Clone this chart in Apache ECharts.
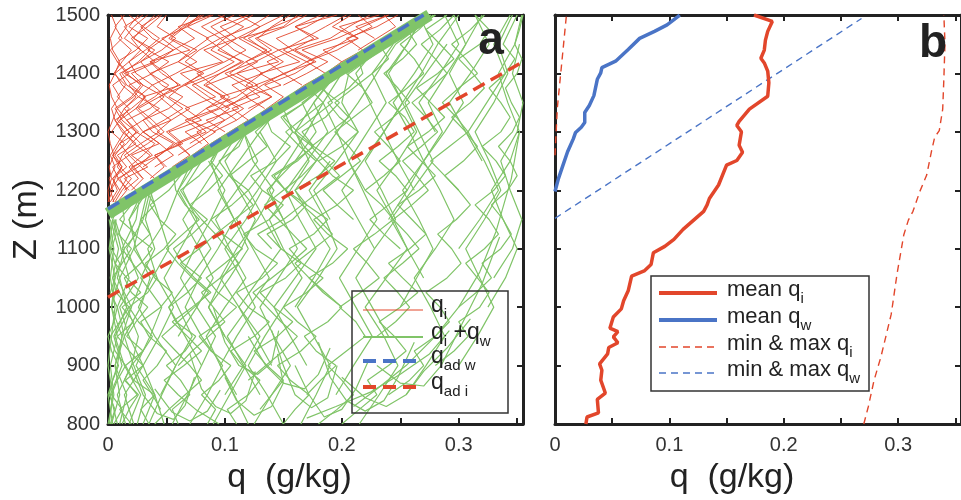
<!DOCTYPE html>
<html>
<head>
<meta charset="utf-8">
<script src="https://cdn.jsdelivr.net/npm/echarts@6/dist/echarts.min.js"></script>
<style>
html, body { margin: 0; padding: 0; background: #fff; }
#chart { width: 961px; height: 500px; }
</style>
</head>
<body>
<div id="chart"></div>
<script>
// ---------------- Panel a: individual profiles ----------------
// q_i + q_w profiles sampled every 25 m from greenStart (values in mg/kg)
const GREEN_DZ = 25;
const greenStart = [800, 800, 800, 800, 825, 800, 800, 800, 800, 825, 800, 850, 800, 800, 875, 1100, 900, 1000,
  800, 850, 900, 1000, 800, 1100, 1150, 950, 1200, 1250];
const greenQ = [
  [5, 12, 3, 8, 15, 6, 2, 10, 18, 7, 4, 12, 20, 9, 14, 12],
  [20, 10, 25, 15, 30, 18, 8, 22, 12, 28, 16, 6, 14, 24, 10, 20, 32],
  [35, 28, 40, 22, 15, 30, 38, 26, 18, 34, 42, 30, 22, 36, 28, 40, 32, 50],
  [2, 6, 1, 4, 9, 3, 0, 5, 8, 2, 6, 10, 3, 7, 4, 9],
  [45, 38, 30, 42, 50, 35, 28, 45, 55, 40, 32, 48, 58, 44, 36, 52, 62, 70],
  [12, 18, 26, 14, 20, 30, 16, 24, 34, 20, 14, 28, 38, 22, 18, 26, 34],
  [60, 55, 70, 62, 50, 66, 75, 58, 52, 68, 80, 64, 56, 72, 85, 70, 62, 78, 90, 96],
  [85, 92, 80, 95, 105, 88, 78, 96, 110, 94, 84, 100, 115, 98, 88, 106, 120, 104, 95, 112, 118],
  [110, 102, 120, 130, 115, 105, 125, 138, 120, 110, 132, 145, 126, 116, 138, 150, 132, 122, 144, 156, 140, 135, 150],
  [130, 140, 150, 136, 125, 145, 158, 142, 130, 152, 165, 148, 136, 158, 170, 152, 142, 162, 175, 158, 148, 168, 180],
  [150, 160, 172, 156, 145, 165, 178, 162, 150, 170, 184, 166, 155, 176, 188, 170, 160, 180, 194, 176, 166, 186, 198, 182, 196],
  [170, 182, 195, 178, 168, 188, 200, 184, 172, 192, 205, 188, 176, 196, 210, 192, 180, 200, 214, 198, 188, 206, 218, 214],
  [95, 75, 60, 48, 65, 80, 68, 55, 72, 88, 74, 62, 78, 92, 80, 70, 86, 98, 88, 94],
  [40, 52, 66, 80, 70, 58, 46, 60, 74, 86, 72, 60, 50, 64, 78, 66, 58, 56],
  [120, 135, 150, 162, 148, 136, 124, 140, 156, 170, 158, 146, 134, 150, 166, 178, 164, 152, 168, 184, 172, 192],
  [140, 128, 150, 166, 152, 140, 160, 176, 162, 150, 168, 184, 198, 214],
  [60, 72, 86, 100, 90, 80, 96, 112, 102, 92, 108, 124, 114, 104, 120, 136, 126, 140, 152],
  [200, 186, 172, 160, 176, 192, 180, 166, 182, 198, 186, 174, 190, 206, 194, 210, 226, 240, 232, 250, 272],
  [200, 215, 230, 222, 240, 255, 245, 232, 250, 265, 252, 240, 258, 272, 260, 248, 266, 280, 268, 256, 274, 288, 276, 264, 282, 296, 284, 272, 290],
  [240, 258, 270, 262, 280, 292, 284, 272, 290, 302, 294, 282, 298, 310, 300, 288, 304, 316, 306, 294, 310, 322, 312, 300, 318, 326, 314],
  [280, 296, 308, 300, 318, 326, 316, 306, 322, 334, 326, 314, 330, 340, 332, 320, 336, 344, 336, 326, 340, 348, 338, 344, 350],
  [300, 315, 328, 320, 336, 345, 338, 328, 342, 350, 344, 334, 346, 352, 345, 340, 350, 354, 348, 352, 355],
  [180, 196, 210, 200, 188, 204, 220, 212, 198, 216, 232, 222, 210, 228, 244, 234, 220, 236, 250, 240, 228, 244, 258, 248, 236, 252, 264, 256, 268],
  [250, 236, 224, 240, 256, 246, 232, 248, 262, 254, 240, 256, 270, 262, 250, 266, 278],
  [210, 196, 184, 200, 216, 206, 194, 210, 226, 218, 204, 222, 238, 258, 280],
  [230, 246, 258, 248, 236, 252, 266, 256, 244, 260, 274, 264, 252, 268, 282, 272, 260, 276, 290, 280, 268, 284, 296],
  [300, 288, 276, 292, 308, 298, 286, 300, 316, 306, 294, 310, 322],
  [180, 168, 160, 176, 192, 184, 200, 216, 230, 252, 272]
];
// q_i + q_w profiles sampled every 50 m from greenStart50 (values in mg/kg)
const GREEN_DZ50 = 50;
const greenStart50 = [800, 800, 800, 800, 800, 800, 800, 800, 800, 800, 850, 800, 850, 900, 800, 950, 800,
  800, 850, 900, 1000, 1100, 1150, 1050, 1200, 1250, 850, 950,
  800, 800, 800, 800, 800, 900, 850, 900, 1000, 1100, 1150, 1200, 1300, 1000, 800, 800, 850, 950, 1050, 1150];
const greenQ50 = [
  [3, 10, 6, 14, 8, 18, 11, 5],
  [15, 8, 20, 26, 16, 10, 22, 28, 34],
  [25, 32, 22, 14, 28, 36, 24, 18, 30],
  [8, 2, 12, 5, 16, 4, 9, 2],
  [48, 40, 30, 44, 56, 42, 34, 50, 60, 72],
  [18, 28, 14, 6, 20, 30, 12, 24, 28],
  [35, 46, 58, 40, 26, 38, 52, 44, 36],
  [0, 5, 2, 8, 3, 6, 1, 4],
  [70, 85, 98, 80, 66, 78, 94, 108, 96, 88, 104],
  [90, 104, 118, 100, 86, 98, 114, 126, 112, 100, 118, 150],
  [130, 116, 102, 120, 138, 124, 110, 128, 144, 130, 150],
  [150, 136, 120, 134, 150, 166, 150, 138, 156, 172, 160, 176, 196],
  [110, 96, 84, 100, 118, 104, 92, 110, 128, 116],
  [170, 156, 142, 160, 178, 164, 152, 170, 188, 176, 194, 226],
  [125, 140, 156, 142, 130, 146, 162, 150, 138, 154, 170, 184],
  [60, 76, 90, 78, 64, 80, 96, 112],
  [55, 68, 80, 92, 76, 62, 74, 88, 100, 86],
  [215, 232, 248, 236, 220, 238, 256, 244, 230, 248, 264, 252, 238, 256, 270],
  [255, 272, 288, 276, 262, 280, 296, 284, 270, 288, 304, 292, 306, 320],
  [300, 316, 330, 318, 306, 322, 336, 326, 314, 330, 342, 334, 346],
  [325, 340, 350, 338, 328, 344, 352, 342, 334, 348, 354],
  [228, 214, 200, 218, 236, 224, 212, 232, 280],
  [190, 176, 196, 214, 200, 206, 240, 276],
  [270, 256, 242, 260, 278, 266, 254, 272, 290],
  [262, 248, 236, 252, 268, 282, 300],
  [320, 306, 292, 310, 326, 314],
  [195, 210, 226, 212, 198, 214, 230, 218, 206, 222, 238, 226, 244],
  [240, 226, 212, 228, 246, 234, 220, 236, 252, 240, 256, 270],
  [1, 4, 0, 3, 6, 2, 5, 1],
  [10, 16, 6, 12, 20, 8, 14, 6],
  [4, 0, 8, 12, 3, 10, 2, 7],
  [22, 14, 30, 18, 10, 26, 16, 30, 36],
  [30, 40, 24, 36, 46, 28, 40, 32, 38],
  [80, 66, 52, 70, 88, 74, 60, 76],
  [100, 116, 130, 112, 96, 110, 128, 142, 124, 116],
  [140, 126, 112, 130, 148, 134, 120, 140, 158, 148],
  [160, 176, 190, 174, 160, 178, 196, 184, 200, 232],
  [300, 318, 334, 322, 308, 324, 340, 330, 344],
  [240, 256, 270, 258, 244, 262, 278, 266],
  [220, 206, 196, 214, 230, 246, 280],
  [280, 266, 284, 300, 288],
  [250, 264, 278, 266, 252, 270, 286, 274, 290, 306, 296],
  [120, 108, 96, 110, 126, 114, 100, 118, 132],
  [165, 178, 190, 176, 162, 180, 196, 186, 172, 190],
  [45, 58, 72, 60, 48, 62, 76, 64, 80],
  [100, 86, 104, 120, 108, 94, 112, 130],
  [330, 346, 354, 344, 336, 350, 355, 346, 352],
  [150, 136, 160, 178, 166, 200, 236, 276]
];
// turning and slanted profiles in the lower cloud, as [mg/kg, m] pairs
const greenLoops = [
  [[100, 880], [110, 840], [125, 815], [140, 830], [150, 870], [145, 920]],
  [[160, 900], [172, 850], [185, 812], [200, 825], [212, 860], [222, 905]],
  [[40, 860], [55, 820], [70, 805], [85, 822], [96, 858]],
  [[200, 880], [220, 845], [238, 830], [255, 850], [270, 890], [290, 930], [310, 980]],
  [[120, 950], [135, 900], [150, 870], [168, 860], [180, 885], [190, 930]],
  [[230, 900], [250, 870], [270, 865], [285, 900], [300, 960], [320, 1040], [335, 1120]],
  [[70, 920], [80, 860], [92, 830], [105, 818], [118, 840], [126, 890]],
  [[140, 960], [150, 900], [160, 850], [174, 828], [188, 845], [196, 900]],
  [[180, 940], [190, 880], [204, 840], [220, 822], [236, 840], [248, 880], [262, 940]],
  [[20, 900], [30, 850], [42, 818], [56, 808], [66, 832], [74, 880]],
  [[90, 1000], [100, 940], [112, 900], [128, 885], [140, 905], [146, 960]],
  [[210, 830], [230, 860], [255, 900], [280, 950], [300, 1000], [318, 1060], [332, 1130], [345, 1220], [352, 1300]],
  [[170, 810], [195, 830], [225, 855], [250, 885], [275, 920], [292, 960]]
];
// q_i profiles sampled every 20 m from redStart (values in mg/kg)
const RED_DZ = 20;
const redStart = [1180, 1180, 1200, 1220, 1240, 1260, 1280, 1320, 1360, 1400, 1180, 1200, 1240, 1300, 1340, 1420,
  1180, 1220, 1260, 1440, 1380, 1180, 1200, 1220, 1260, 1300, 1340, 1380, 1180, 1200, 1240, 1280, 1460, 1320, 1180, 1200,
  1200, 1240, 1280, 1340, 1420];
const redQ = [
  [2, 8, 4, 12, 6, 14, 3, 10, 18, 8, 15, 5, 12, 20, 9, 16, 11],
  [8, 16, 10, 22, 14, 28, 18, 10, 24, 32, 20, 12, 26, 36, 22, 30, 18],
  [20, 30, 22, 38, 28, 44, 34, 24, 40, 52, 36, 28, 46, 58, 42, 50],
  [36, 48, 40, 62, 50, 70, 56, 44, 66, 80, 60, 72, 86, 68, 78],
  [55, 70, 60, 84, 72, 96, 80, 66, 90, 108, 88, 100, 116, 94],
  [72, 86, 76, 100, 116, 98, 84, 110, 128, 108, 96, 122, 138],
  [88, 104, 120, 106, 130, 116, 100, 126, 146, 128, 140, 156],
  [122, 136, 150, 134, 160, 176, 158, 144, 170, 188],
  [154, 168, 186, 170, 196, 214, 192, 208],
  [186, 200, 218, 204, 230, 248],
  [5, 2, 9, 4, 18, 10, 26, 16, 8, 22, 30, 14, 40, 28, 20, 34, 46],
  [24, 14, 34, 20, 44, 30, 54, 40, 30, 62, 46, 36, 70, 52, 64, 80],
  [50, 40, 64, 52, 80, 66, 92, 76, 62, 98, 82, 110, 96, 120],
  [100, 84, 112, 96, 128, 110, 146, 130, 112, 150, 162],
  [134, 118, 148, 130, 164, 146, 180, 160, 196],
  [200, 184, 214, 198, 232],
  [0, 4, 1, 6, 2, 8, 14, 6, 3, 10, 4, 18, 8, 2, 12, 6, 14],
  [40, 28, 18, 34, 48, 38, 26, 44, 60, 50, 36, 56, 74, 60, 88],
  [70, 58, 80, 66, 94, 104, 90, 76, 100, 118, 102, 88, 108],
  [214, 230, 246, 236],
  [166, 150, 178, 160, 190, 206, 224],
  [6, 12, 20, 10, 4, 16, 24, 12, 6, 20, 28, 16, 8, 24, 34, 18, 26],
  [14, 26, 18, 30, 40, 24, 16, 36, 48, 30, 20, 42, 56, 38, 28, 44],
  [30, 20, 44, 56, 38, 30, 52, 64, 46, 36, 60, 76, 54, 66, 82],
  [60, 76, 92, 70, 84, 100, 82, 96, 116, 94, 110, 130, 112],
  [90, 110, 96, 120, 106, 132, 118, 140, 126, 152, 170],
  [120, 140, 126, 152, 170, 150, 168, 186, 204],
  [150, 170, 188, 166, 196, 218, 240],
  [1, 0, 3, 1, 5, 2, 0, 4, 8, 3, 1, 6, 10, 4, 2, 7, 3],
  [10, 4, 16, 8, 24, 12, 6, 20, 32, 16, 10, 28, 40, 22, 14, 30],
  [40, 56, 44, 30, 48, 64, 50, 38, 58, 76, 60, 46, 68, 90],
  [80, 66, 90, 104, 86, 72, 96, 114, 98, 84, 106, 124],
  [228, 212, 240],
  [110, 124, 140, 118, 132, 150, 134, 120, 142, 166],
  [4, 10, 16, 8, 12, 20, 30, 22, 14, 26, 38, 24, 18, 32, 44, 30, 40],
  [18, 8, 26, 36, 22, 14, 30, 44, 26, 18, 38, 52, 34, 48, 62, 70],
  [2, 6, 12, 4, 10, 18, 8, 14, 24, 12, 6, 18, 28, 14, 22, 34],
  [30, 44, 58, 42, 54, 70, 52, 64, 82, 66, 78, 96, 80, 100],
  [70, 86, 100, 84, 110, 124, 104, 118, 136, 116, 130, 150],
  [100, 116, 132, 150, 136, 158, 176, 160, 182],
  [170, 190, 206, 226, 214]
];
// saturation limit where profiles pile up (g/kg, m)
const satBandQ = [0, 0.275];
const satBandZ = [1160, 1500];
// adiabatic references (g/kg, m)
const adWaterQ = [0, 0.27];
const adWaterZ = [1168, 1500];
const adIceQ = [0, 0.355];
const adIceZ = [1017, 1420];

// ---------------- Panel b: statistics ----------------
const meanQiQ = [0.027, 0.028, 0.038, 0.037, 0.044, 0.040, 0.041, 0.039, 0.046, 0.047, 0.055, 0.051, 0.055, 0.048, 0.051,
  0.058, 0.060, 0.064, 0.067, 0.078, 0.084, 0.086, 0.096, 0.104, 0.112, 0.123, 0.130, 0.133, 0.135, 0.143, 0.150,
  0.159, 0.164, 0.161, 0.163, 0.159, 0.161, 0.170, 0.186, 0.187, 0.186, 0.183, 0.180, 0.183, 0.184, 0.186, 0.190, 0.174];
const meanQiZ = [800, 812, 819, 842, 853, 875, 892, 903, 920, 931, 939, 949, 958, 964, 983,
  997, 1011, 1028, 1053, 1062, 1073, 1093, 1104, 1116, 1133, 1152, 1164, 1175, 1186, 1209, 1243,
  1251, 1265, 1277, 1300, 1311, 1318, 1339, 1361, 1384, 1404, 1418, 1426, 1440, 1457, 1472, 1489, 1500];
const meanQwQ = [0, 0.003, 0.007, 0.011, 0.016, 0.018, 0.023, 0.026, 0.026, 0.030, 0.034, 0.037, 0.040, 0.041, 0.053,
  0.064, 0.074, 0.087, 0.098, 0.108, 0.109];
const meanQwZ = [1198, 1220, 1243, 1266, 1288, 1299, 1308, 1316, 1333, 1345, 1362, 1390, 1401, 1410, 1421,
  1441, 1460, 1472, 1483, 1498, 1500];
const minQiQ = [0, 0.001, 0.002, 0.004, 0.006, 0.008, 0.010];
const minQiZ = [1260, 1300, 1340, 1380, 1420, 1460, 1500];
const maxQiQ = [0.270, 0.274, 0.279, 0.285, 0.294, 0.299, 0.305, 0.309, 0.313, 0.319, 0.325, 0.329, 0.332, 0.336, 0.339, 0.340, 0.341, 0.340];
const maxQiZ = [800, 830, 875, 915, 988, 1056, 1124, 1149, 1164, 1198, 1226, 1265, 1291, 1302, 1339, 1390, 1452, 1500];
const maxQwQ = [0, 0.268];
const maxQwZ = [1152, 1494];

// axis ticks
const X_MIN = 0, X_MAX = 0.355, X_TICK = 0.05;
const Z_MIN = 800, Z_MAX = 1500, Z_TICK = 100;

// ---------------- styling ----------------
const FONT = '"Liberation Sans", Arial, Helvetica, sans-serif';
const INK = '#222';
const GREEN = '#80c468';
const RED = '#e2462b';
const BLUE = '#4a74c6';

const pairs = (qs, zs) => qs.map((q, i) => [q, zs[i]]);
const profile = (start, dz, qs) => qs.map((q, i) => [q / 1000, start + i * dz]);

const series = [];
function lineSeries(data, opts) {
  return Object.assign({
    type: 'line', data, symbol: 'none', silent: true, animation: false, clip: true,
    xAxisIndex: 0, yAxisIndex: 0
  }, opts);
}
const redStyle = { z: 2, lineStyle: { color: RED, width: 0.9 } };
const greenStyle = { z: 3, lineStyle: { color: GREEN, width: 1.2 } };
redQ.forEach((qs, k) => series.push(lineSeries(profile(redStart[k], RED_DZ, qs), redStyle)));
greenQ.forEach((qs, k) => series.push(lineSeries(profile(greenStart[k], GREEN_DZ, qs), greenStyle)));
greenQ50.forEach((qs, k) => series.push(lineSeries(profile(greenStart50[k], GREEN_DZ50, qs), greenStyle)));
greenLoops.forEach(loop => series.push(lineSeries(loop.map(p => [p[0] / 1000, p[1]]), greenStyle)));
series.push(lineSeries(pairs(satBandQ, satBandZ), { z: 4, lineStyle: { color: GREEN, width: 12 } }));
series.push(lineSeries(pairs(adWaterQ, adWaterZ), { z: 5, lineStyle: { color: BLUE, width: 3.5, type: [13, 7] } }));
series.push(lineSeries(pairs(adIceQ, adIceZ), { z: 5, lineStyle: { color: RED, width: 3.5, type: [13, 7] } }));

const b = { xAxisIndex: 2, yAxisIndex: 2 };
series.push(lineSeries(pairs(minQiQ, minQiZ), Object.assign({ z: 3, lineStyle: { color: RED, width: 1.4, type: [7, 5] } }, b)));
series.push(lineSeries(pairs(maxQiQ, maxQiZ), Object.assign({ z: 3, lineStyle: { color: RED, width: 1.4, type: [7, 5] } }, b)));
series.push(lineSeries(pairs(maxQwQ, maxQwZ), Object.assign({ z: 3, lineStyle: { color: BLUE, width: 1.4, type: [7, 5] } }, b)));
series.push(lineSeries(pairs(meanQiQ, meanQiZ), Object.assign({ z: 4, lineStyle: { color: RED, width: 3.5 } }, b)));
series.push(lineSeries(pairs(meanQwQ, meanQwZ), Object.assign({ z: 4, lineStyle: { color: BLUE, width: 3.5 } }, b)));

const axisLine = { show: true, onZero: false, lineStyle: { color: INK, width: 3 } };
const axisTick = { show: true, inside: true, length: 6, lineStyle: { color: INK, width: 2 } };
const xLabel = v => {
  const t = Math.round(v * 100);
  if (t % 10 !== 0) return '';
  return t === 0 ? '0' : String(t / 100);
};
function xAxes(grid, withName) {
  const common = { gridIndex: grid, type: 'value', min: X_MIN, max: X_MAX, interval: X_TICK, splitLine: { show: false }, axisLine, axisTick };
  return [
    Object.assign({}, common, {
      position: 'bottom',
      axisLabel: { formatter: xLabel, fontSize: 20, color: '#333', fontFamily: FONT, margin: 11, showMaxLabel: false },
      name: withName ? 'q  (g/kg)' : '', nameLocation: 'middle', nameGap: 37,
      nameTextStyle: { fontSize: 34, color: INK, fontFamily: FONT, padding: [0, 52, 0, 0] }
    }),
    Object.assign({}, common, { position: 'top', axisLabel: { show: false } })
  ];
}
function yAxes(grid, labels) {
  const common = { gridIndex: grid, type: 'value', min: Z_MIN, max: Z_MAX, interval: Z_TICK, splitLine: { show: false }, axisLine, axisTick };
  return [
    Object.assign({}, common, {
      position: 'left',
      axisLabel: { show: labels, formatter: v => String(v), fontSize: 20, color: '#333', fontFamily: FONT, margin: 8 },
      name: labels ? 'Z (m)' : '', nameLocation: 'middle', nameGap: 64, nameRotate: 90,
      nameTextStyle: { fontSize: 34, color: INK, fontFamily: FONT }
    }),
    Object.assign({}, common, { position: 'right', axisLabel: { show: false } })
  ];
}

// ---------------- legends & panel letters ----------------
const measureCtx = document.createElement('canvas').getContext('2d');
function textWidth(str, size) {
  measureCtx.font = size + 'px ' + FONT;
  return measureCtx.measureText(str).width;
}
function legendText(x0, yMid, parts, mainSize, subSize, drop) {
  const out = [];
  let x = x0;
  parts.forEach(([s, sub]) => {
    const size = sub ? subSize : mainSize;
    out.push({
      type: 'text', x, y: sub ? yMid + drop : yMid, silent: true, z: 100,
      style: { text: s, fontSize: size, fontFamily: FONT, fill: INK, align: 'left', verticalAlign: 'middle' }
    });
    x += textWidth(s, size);
  });
  return out;
}
function legendLine(x1, x2, y, color, width, dash) {
  return { type: 'line', silent: true, z: 100, shape: { x1, y1: y, x2, y2: y },
    style: { stroke: color, lineWidth: width, lineDash: dash || null } };
}
const graphic = [
  { type: 'rect', silent: true, z: 100, shape: { x: 352, y: 291, width: 156, height: 122 }, style: { fill: 'none', stroke: '#333', lineWidth: 1.5 } },
  legendLine(363, 423, 310, RED, 1),
  legendLine(363, 423, 337, GREEN, 2),
  legendLine(363, 423, 361, BLUE, 4, [13, 7]),
  legendLine(363, 423, 387, RED, 4, [13, 7]),
  ...legendText(431, 306, [['q', 0], ['i', 1]], 23, 15, 9),
  ...legendText(431, 333, [['q', 0], ['i', 1], [' +q', 0], ['w', 1]], 23, 15, 9),
  ...legendText(431, 357, [['q', 0], ['ad w', 1]], 23, 15, 9),
  ...legendText(431, 383, [['q', 0], ['ad i', 1]], 23, 15, 9),

  { type: 'rect', silent: true, z: 100, shape: { x: 651, y: 276, width: 218, height: 115 }, style: { fill: 'none', stroke: '#333', lineWidth: 1.5 } },
  legendLine(659, 717, 293, RED, 4),
  legendLine(659, 717, 320, BLUE, 4),
  legendLine(659, 717, 347, RED, 1.4, [7, 5]),
  legendLine(659, 717, 373, BLUE, 1.4, [7, 5]),
  ...legendText(727, 290, [['mean q', 0], ['i', 1]], 22, 15, 9),
  ...legendText(727, 317, [['mean q', 0], ['w', 1]], 22, 15, 9),
  ...legendText(727, 344, [['min & max q', 0], ['i', 1]], 22, 15, 9),
  ...legendText(727, 370, [['min & max q', 0], ['w', 1]], 22, 15, 9),

  { type: 'text', x: 491, y: 41, silent: true, z: 100, style: { text: 'a', fontSize: 46, fontWeight: 'bold', fontFamily: FONT, fill: INK, align: 'center', verticalAlign: 'middle' } },
  { type: 'text', x: 933, y: 44, silent: true, z: 100, style: { text: 'b', fontSize: 46, fontWeight: 'bold', fontFamily: FONT, fill: INK, align: 'center', verticalAlign: 'middle' } }
];

const chart = echarts.init(document.getElementById('chart'), null, { renderer: 'canvas' });
chart.setOption({
  backgroundColor: '#fff',
  animation: false,
  textStyle: { fontFamily: FONT },
  grid: [
    { left: 108, top: 15, width: 415, height: 412 },
    { left: 555, top: 15, width: 415, height: 412 }
  ],
  xAxis: [...xAxes(0, true), ...xAxes(1, true)],
  yAxis: [...yAxes(0, true), ...yAxes(1, false)],
  series,
  graphic
});
</script>
</body>
</html>
